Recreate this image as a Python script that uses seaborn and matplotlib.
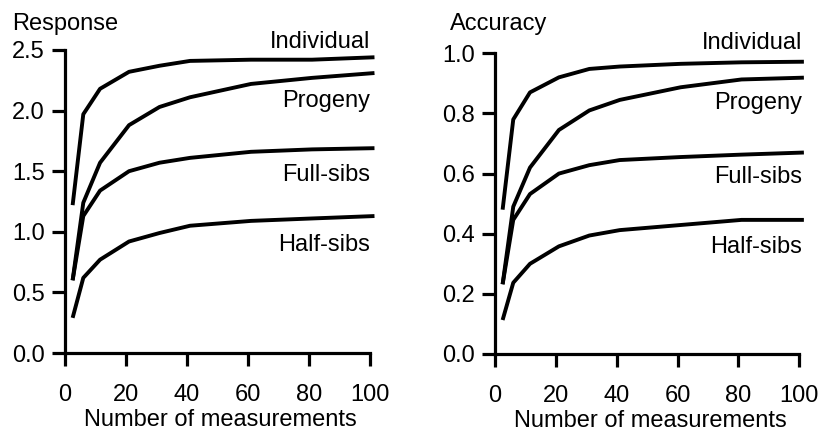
import matplotlib
matplotlib.use("Agg")
import matplotlib.pyplot as plt
import seaborn as sns
import pandas as pd

# ---- data ----
measurements = [2.5, 6, 11.5, 21, 31, 41, 61, 81, 101.5]
series_names = ["Individual", "Progeny", "Full-sibs", "Half-sibs"]

response_individual = [1.22, 1.97, 2.18, 2.32, 2.37, 2.41, 2.42, 2.42, 2.44]
response_progeny    = [0.60, 1.24, 1.57, 1.88, 2.03, 2.11, 2.22, 2.27, 2.31]
response_fullsibs   = [0.60, 1.13, 1.34, 1.50, 1.57, 1.61, 1.66, 1.68, 1.69]
response_halfsibs   = [0.29, 0.62, 0.77, 0.92, 0.99, 1.05, 1.09, 1.11, 1.13]

accuracy_individual = [0.48, 0.78, 0.87, 0.92, 0.948, 0.956, 0.965, 0.97, 0.972]
accuracy_progeny    = [0.232, 0.49, 0.62, 0.745, 0.81, 0.845, 0.887, 0.913, 0.919]
accuracy_fullsibs   = [0.232, 0.446, 0.532, 0.60, 0.628, 0.645, 0.655, 0.663, 0.67]
accuracy_halfsibs   = [0.113, 0.237, 0.30, 0.358, 0.394, 0.412, 0.429, 0.446, 0.446]

response_ticks = [0.0, 0.5, 1.0, 1.5, 2.0, 2.5]
accuracy_ticks = [0.0, 0.2, 0.4, 0.6, 0.8, 1.0]
x_ticks = [0, 20, 40, 60, 80, 100]

response_label_y = [2.57, 2.08, 1.47, 0.89]
accuracy_label_y = [1.033, 0.834, 0.59, 0.357]


def long_frame(values):
    rows = []
    for name, vals in zip(series_names, values):
        for x, v in zip(measurements, vals):
            rows.append({"n": x, "value": v, "series": name})
    return pd.DataFrame(rows)


df_resp = long_frame([response_individual, response_progeny,
                      response_fullsibs, response_halfsibs])
df_acc = long_frame([accuracy_individual, accuracy_progeny,
                     accuracy_fullsibs, accuracy_halfsibs])

sns.set_style("ticks")
plt.rcParams["font.family"] = ["Liberation Sans", "DejaVu Sans"]
plt.rcParams["text.color"] = "black"
plt.rcParams["axes.labelcolor"] = "black"
plt.rcParams["xtick.color"] = "black"
plt.rcParams["ytick.color"] = "black"

FS = 17
W, H = 822, 430
fig = plt.figure(figsize=(W / 100, H / 100), dpi=100)

ax1 = fig.add_axes([65 / W, 1 - 353 / H, 311 / W, 303 / H])
ax2 = fig.add_axes([495 / W, 1 - 354 / H, 310.4 / W, 300.7 / H])

palette = {n: "black" for n in series_names}

panels = [
    (ax1, df_resp, response_ticks, 2.5, "Response", 12, response_label_y, 100, ["0.0", "0.5", "1.0", "1.5", "2.0", "2.5"]),
    (ax2, df_acc, accuracy_ticks, 1.0, "Accuracy", 450, accuracy_label_y, 101, ["0.0", "0.2", "0.4", "0.6", "0.8", "1.0"]),
]

for ax, df, yt, ytop, title, title_x, label_y, label_x, ytl in panels:
    sns.lineplot(data=df, x="n", y="value", hue="series", palette=palette,
                 linewidth=2.8, legend=False, ax=ax, clip_on=False,
                 estimator=None, sort=False)
    for line in ax.lines:
        line.set_solid_capstyle("butt")
        line.set_solid_joinstyle("round")
    ax.set_xlim(0, 102)
    ax.set_ylim(0, ytop)
    ax.set_xticks(x_ticks)
    ax.set_yticks(yt)
    ax.set_yticklabels(ytl)
    sns.despine(ax=ax)
    ax.spines["bottom"].set_bounds(0, 100)
    ax.spines["left"].set_bounds(0, ytop)
    for s in ("left", "bottom"):
        ax.spines[s].set_linewidth(2.3)
        ax.spines[s].set_color("black")
    ax.tick_params(axis="both", direction="out", length=9.5, width=2.3,
                   labelsize=FS, colors="black")
    ax.tick_params(axis="y", pad=5)
    ax.tick_params(axis="x", pad=13)
    ax.set_xlabel("Number of measurements", fontsize=FS, color="black")
    ax.set_ylabel("")
    ax.xaxis.set_label_coords(0.5, -0.185)
    for name, yl in zip(series_names, label_y):
        ax.text(label_x, yl, name, ha="right", va="center", fontsize=FS,
                color="black", clip_on=False)
    fig.text(title_x / W, 1 - 30 / H, title, ha="left", va="baseline",
             fontsize=FS, color="black")

fig.savefig("out.png", dpi=100)
